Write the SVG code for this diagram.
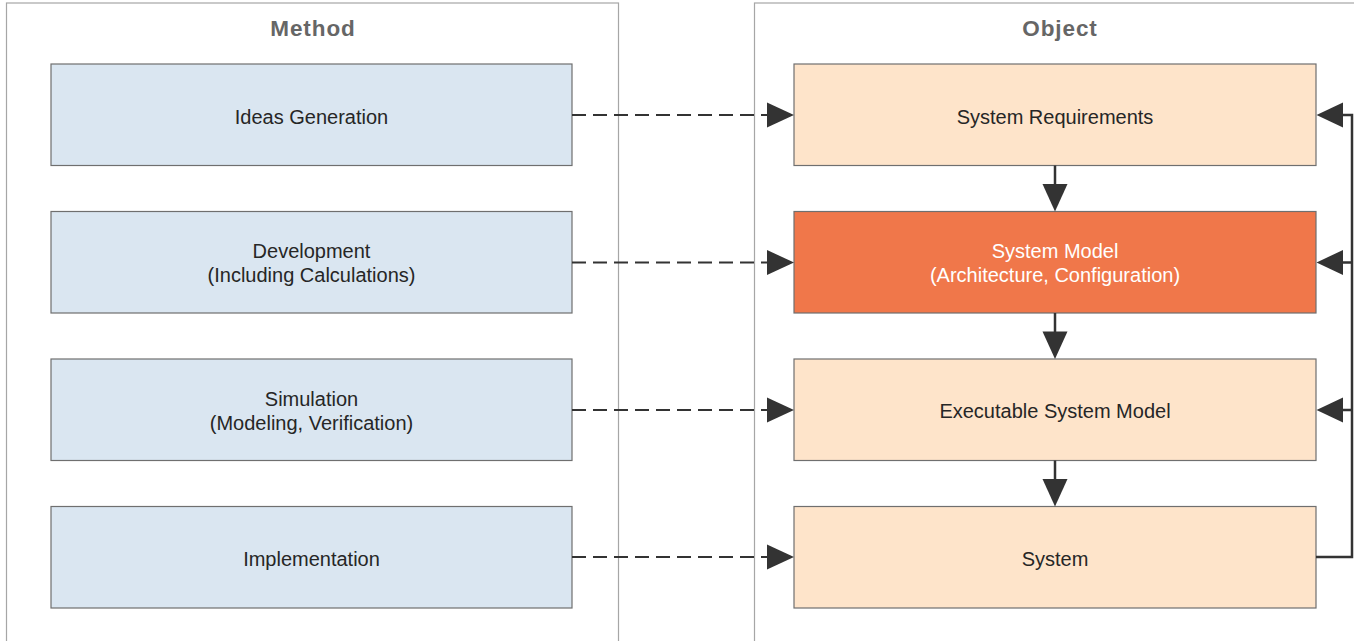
<svg xmlns="http://www.w3.org/2000/svg" width="1354" height="641" viewBox="0 0 1354 641">
<defs>
<style>
.panel{fill:none;stroke:#a6a6a6;stroke-width:1.2}
.title{font-family:"Liberation Sans",Arial,sans-serif;font-weight:bold;font-size:22.5px;letter-spacing:0.9px;fill:#666666;text-anchor:middle}
.lbl{font-family:"Liberation Sans",Arial,sans-serif;font-size:20px;fill:#262626;text-anchor:middle}
.lblw{font-family:"Liberation Sans",Arial,sans-serif;font-size:20px;fill:#ffffff;text-anchor:middle}
.m{fill:#dae6f1;stroke:#6f6f6f;stroke-width:1.2}
.o{fill:#fee4ca;stroke:#6f6f6f;stroke-width:1.2}
.h{fill:#f0774a;stroke:#6f6f6f;stroke-width:1.2}
.dash{fill:none;stroke:#333333;stroke-width:2.2;stroke-dasharray:14 7}
.solid{fill:none;stroke:#333333;stroke-width:2.5}
.ah{fill:#333333}
</style>
</defs>
<g id="panel-method">
<rect class="panel" x="6.5" y="3" width="612" height="700"/>
<text class="title" x="313" y="36">Method</text>
</g>
<g id="panel-object">
<rect class="panel" x="754.5" y="3" width="612" height="700"/>
<text class="title" x="1060" y="36">Object</text>
</g>
<g id="ideas-generation">
<rect class="m" x="51" y="64" width="521" height="101.5"/>
<text class="lbl" x="311.5" y="123.5">Ideas Generation</text>
</g>
<g id="development">
<rect class="m" x="51" y="211.5" width="521" height="101.5"/>
<text class="lbl" x="311.5" y="258">Development</text>
<text class="lbl" x="311.5" y="282">(Including Calculations)</text>
</g>
<g id="simulation">
<rect class="m" x="51" y="359" width="521" height="101.5"/>
<text class="lbl" x="311.5" y="406">Simulation</text>
<text class="lbl" x="311.5" y="430">(Modeling, Verification)</text>
</g>
<g id="implementation">
<rect class="m" x="51" y="506.5" width="521" height="101.5"/>
<text class="lbl" x="311.5" y="565.5">Implementation</text>
</g>
<g id="system-requirements">
<rect class="o" x="794" y="64" width="522" height="101.5"/>
<text class="lbl" x="1055" y="123.5">System Requirements</text>
</g>
<g id="system-model">
<rect class="h" x="794" y="211.5" width="522" height="101.5"/>
<text class="lblw" x="1055" y="258">System Model</text>
<text class="lblw" x="1055" y="282">(Architecture, Configuration)</text>
</g>
<g id="executable-system-model">
<rect class="o" x="794" y="359" width="522" height="101.5"/>
<text class="lbl" x="1055" y="417.5">Executable System Model</text>
</g>
<g id="system">
<rect class="o" x="794" y="506.5" width="522" height="101.5"/>
<text class="lbl" x="1055" y="565.5">System</text>
</g>
<g id="connectors">
<line class="dash" x1="572" y1="115" x2="768" y2="115"/>
<polygon class="ah" points="767,102.5 794,115 767,127.5"/>
<line class="dash" x1="572" y1="262.5" x2="768" y2="262.5"/>
<polygon class="ah" points="767,250 794,262.5 767,275"/>
<line class="dash" x1="572" y1="410" x2="768" y2="410"/>
<polygon class="ah" points="767,397.5 794,410 767,422.5"/>
<line class="dash" x1="572" y1="557" x2="768" y2="557"/>
<polygon class="ah" points="767,544.5 794,557 767,569.5"/>
<line class="solid" x1="1055" y1="165.5" x2="1055" y2="185"/>
<polygon class="ah" points="1042.5,184 1067.5,184 1055,211.5"/>
<line class="solid" x1="1055" y1="313" x2="1055" y2="332"/>
<polygon class="ah" points="1042.5,331.5 1067.5,331.5 1055,359"/>
<line class="solid" x1="1055" y1="460.5" x2="1055" y2="480"/>
<polygon class="ah" points="1042.5,479 1067.5,479 1055,506.5"/>
<path class="solid" d="M1316 557 H1352 V115 H1342"/>
<path class="solid" d="M1352 262.5 H1342 M1352 410 H1342"/>
<polygon class="ah" points="1343,102.5 1316.5,115 1343,127.5"/>
<polygon class="ah" points="1343,250 1316.5,262.5 1343,275"/>
<polygon class="ah" points="1343,397.5 1316.5,410 1343,422.5"/>
</g>
</svg>
